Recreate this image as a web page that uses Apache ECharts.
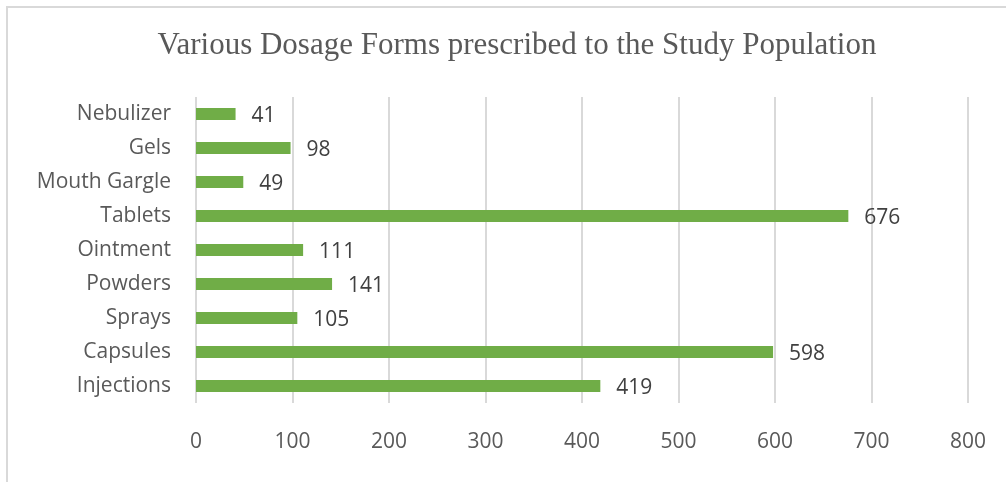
<!DOCTYPE html>
<html>
<head>
<meta charset="utf-8">
<script src="https://cdn.jsdelivr.net/npm/echarts@6/dist/echarts.min.js"></script>
<style>
html, body { margin: 0; padding: 0; background: #fff; }
#main { width: 1006px; height: 482px; }
</style>
</head>
<body>
<div id="main"></div>
<script>
// categories bottom -> top, as the value axis draws them
const forms = ['Injections', 'Capsules', 'Sprays', 'Powders', 'Ointment', 'Tablets', 'Mouth Gargle', 'Gels', 'Nebulizer'];
const counts = [419, 598, 105, 141, 111, 676, 49, 98, 41];
const xTicks = [0, 100, 200, 300, 400, 500, 600, 700, 800];

const textColor = '#595959';
const gridColor = '#d9d9d9';
const barColor = '#70ad47';

let myChart = echarts.init(document.getElementById('main'));

let option = {
  backgroundColor: '#fff',
  title: {
    text: 'Various Dosage Forms prescribed to the Study Population',
    left: 512,
    top: 25,
    textAlign: 'center',
    textStyle: {
      fontFamily: 'Liberation Serif',
      fontWeight: 'normal',
      fontSize: 31,
      color: textColor
    }
  },
  // chart frame, only left and top edges fall inside the picture
  graphic: [{
    type: 'rect',
    shape: { x: 7, y: 7, width: 1200, height: 700 },
    style: { fill: null, stroke: gridColor, lineWidth: 2 },
    silent: true
  }],
  grid: {
    left: 196,
    right: 38,
    top: 97,
    bottom: 79
  },
  xAxis: {
    type: 'value',
    min: xTicks[0],
    max: xTicks[xTicks.length - 1],
    interval: 100,
    axisLine: { show: false },
    axisTick: { show: false },
    axisLabel: {
      margin: 29,
      fontFamily: 'Open Sans',
      fontSize: 21,
      color: textColor
    },
    splitLine: {
      show: true,
      lineStyle: { color: gridColor, width: 2 }
    }
  },
  yAxis: {
    type: 'category',
    data: forms,
    axisLine: { show: false },
    axisTick: { show: false },
    axisLabel: {
      margin: 25,
      fontFamily: 'Open Sans',
      fontSize: 21,
      color: textColor
    }
  },
  series: [
    {
      type: 'bar',
      data: counts,
      barWidth: 12,
      itemStyle: { color: barColor },
      label: {
        show: true,
        position: 'right',
        distance: 16,
        offset: [0, 2],
        fontFamily: 'Open Sans',
        fontSize: 21,
        color: '#404040'
      }
    }
  ]
};

myChart.setOption(option);
</script>
</body>
</html>
